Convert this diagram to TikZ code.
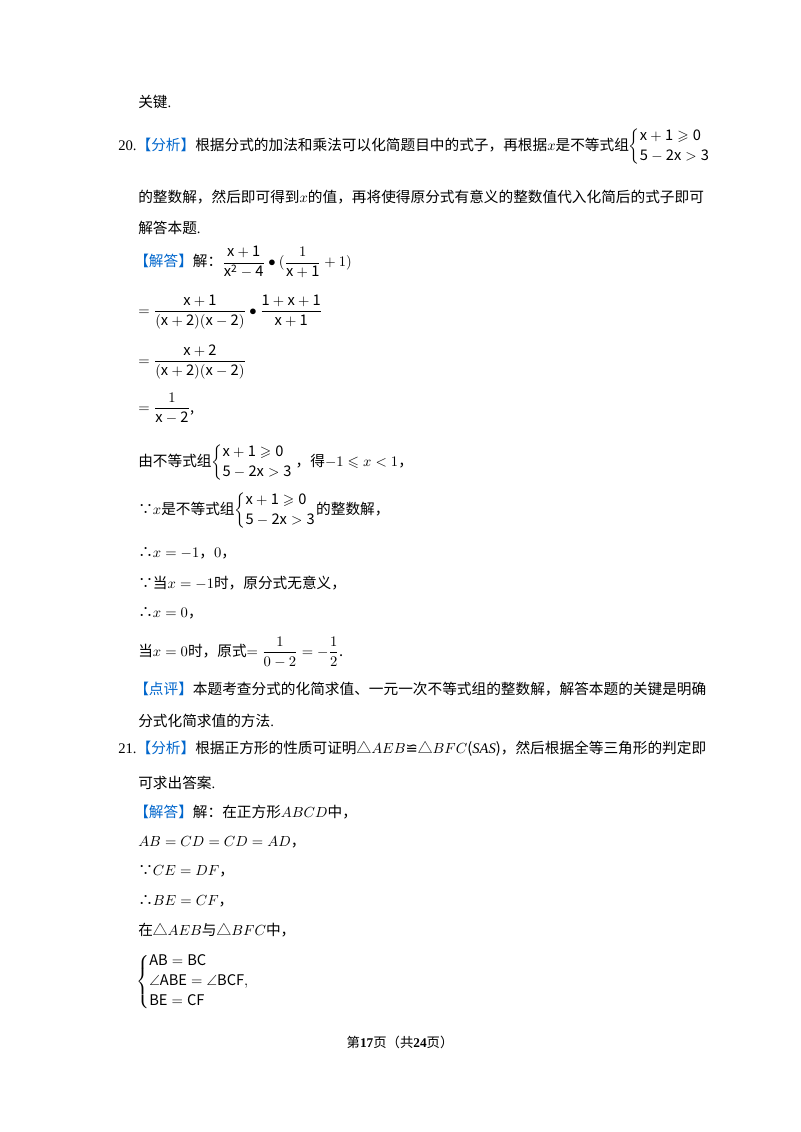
\documentclass[tikz,border=0pt]{standalone}
\usepackage{amsmath,amssymb}
\usepackage{fontspec}
\setmainfont{Noto Sans CJK SC}
\newfontfamily\lat{Liberation Serif}
\newfontfamily\djv{DejaVu Sans}
\definecolor{tagblue}{RGB}{0,102,204}
\newcommand{\tg}[1]{\textcolor{tagblue}{【#1】}}
\newcommand{\sys}[2]{$\left\{\begin{array}{@{}l@{}}\mathrm{#1}\\[2pt] \mathrm{#2}\end{array}\right.$}
\begin{document}
\begin{tikzpicture}[x=0.75pt,y=-0.75pt,
  t/.style={anchor=west,inner sep=0pt,font=\fontsize{11}{13}\selectfont}]
\useasboundingbox (0,0) rectangle (800,1132);
\fill[white] (0,0) rectangle (800,1132);
\node[t] (a0) at (138,102) {关键{\lat.}};
\node[t] (a1) at (118,147) {{\lat 20.}\tg{分析}根据分式的加法和乘法可以化简题目中的式子，再根据$x$是不等式组\sys{x+1\geqslant 0}{5-2x>3}};
\node[t] (a2) at (138,197) {的整数解，然后即可得到$x$的值，再将使得原分式有意义的整数值代入化简后的式子即可};
\node[t] (a3) at (138,228) {解答本题{\lat.}};
\node[t] (a4) at (134,262) {\tg{解答}解：$\dfrac{\mathrm{x+1}}{\mathrm{x^2-4}}\bullet(\dfrac{1}{\mathrm{x+1}}+1)$};
\node[t] (a5) at (138,312) {$=\dfrac{\mathrm{x+1}}{\mathrm{(x+2)(x-2)}}\bullet\dfrac{\mathrm{1+x+1}}{\mathrm{x+1}}$};
\node[t] (a6) at (138,362) {$=\dfrac{\mathrm{x+2}}{\mathrm{(x+2)(x-2)}}$};
\node[t] (a7) at (138,408) {$=\dfrac{1}{\mathrm{x-2}}$,};
\node[t] (a8) at (138,463) {由不等式组\sys{x+1\geqslant 0}{5-2x>3}\,，得$-1\leqslant x<1$，};
\node[t] (a9) at (138,511) {∵$x$是不等式组\sys{x+1\geqslant 0}{5-2x>3}的整数解，};
\node[t] (a10) at (138,553) {∴$x=-1$，$0$，};
\node[t] (a11) at (138,583) {∵当$x=-1$时，原分式无意义，};
\node[t] (a12) at (138,613) {∴$x=0$，};
\node[t] (a13) at (138,652) {当$x=0$时，原式$=\dfrac{1}{0-2}=-\dfrac{1}{2}$.};
\node[t] (a14) at (134,689) {\tg{点评}本题考查分式的化简求值、一元一次不等式组的整数解，解答本题的关键是明确};
\node[t] (a15) at (138,721) {分式化简求值的方法{\lat.}};
\node[t] (b0) at (118,749) {{\lat 21.}\tg{分析}根据正方形的性质可证明△$AEB${\djv ≌}△$BFC$({\lat\itshape SAS})，然后根据全等三角形的判定即};
\node[t] (b1) at (138,783) {可求出答案{\lat.}};
\node[t] (b2) at (134,812) {\tg{解答}解：在正方形$ABCD$中，};
\node[t] (b3) at (138,842) {$AB=CD=CD=AD$，};
\node[t] (b4) at (138,871) {∵$CE=DF$，};
\node[t] (b5) at (138,901) {∴$BE=CF$，};
\node[t] (b6) at (138,930) {在△$AEB$与△$BFC$中，};
\node[t] (b7) at (136,982) {$\left\{\begin{array}{@{}l@{}}\mathrm{AB=BC}\\[2pt] \angle\mathrm{ABE}=\angle\mathrm{BCF},\\[2pt] \mathrm{BE=CF}\end{array}\right.$};
\node[anchor=center,inner sep=0pt,font=\fontsize{10}{12}\selectfont] (ft) at (400,1042) {第{\bfseries\lat 17}页（共{\bfseries\lat 24}页）};
\end{tikzpicture}
\end{document}
